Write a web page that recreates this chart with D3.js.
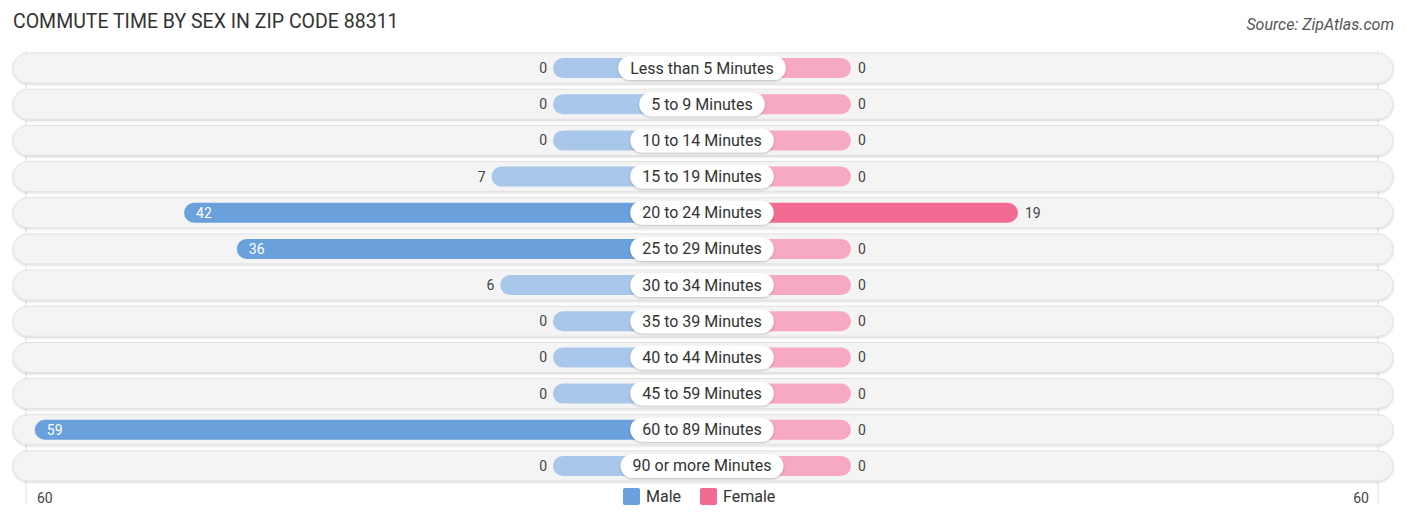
<!DOCTYPE html>
<html><head><meta charset="utf-8">
<script src="https://cdn.jsdelivr.net/npm/d3@7"></script>
<style>body{margin:0;background:#fff;font-family:Roboto,"Open Sans",sans-serif;}</style>
</head><body><svg id="c" width="1406" height="523"></svg>
<script>
const categories = ["Less than 5 Minutes","5 to 9 Minutes","10 to 14 Minutes","15 to 19 Minutes","20 to 24 Minutes","25 to 29 Minutes","30 to 34 Minutes","35 to 39 Minutes","40 to 44 Minutes","45 to 59 Minutes","60 to 89 Minutes","90 or more Minutes"];
const maleValues = [0,0,0,7,42,36,6,0,0,0,59,0];
const femaleValues = [0,0,0,0,19,0,0,0,0,0,0,0];
const axisMax = 60;
const axisTickLabels = ["60","60"];
const title = "COMMUTE TIME BY SEX IN ZIP CODE 88311";
const source = "Source: ZipAtlas.com";

const svg = d3.select("#c");
const cx = 702, zeroOff = 149;
const x = d3.scaleLinear().domain([0, axisMax]).range([0, 527]);
const y = d3.scaleBand().domain(categories).range([50, 484]).paddingInner(0);

const defs = svg.append("defs");
const f = defs.append("filter").attr("id","sh").attr("x","-10%").attr("y","-30%").attr("width","120%").attr("height","160%");
f.append("feDropShadow").attr("dx",0).attr("dy",1).attr("stdDeviation",1.2).attr("flood-color","#000").attr("flood-opacity",0.25);
const f2 = defs.append("filter").attr("id","sh2").attr("x","-5%").attr("y","-30%").attr("width","110%").attr("height","160%");
f2.append("feDropShadow").attr("dx",0).attr("dy",1).attr("stdDeviation",1).attr("flood-color","#000").attr("flood-opacity",0.18);

svg.append("text").attr("x",13).attr("y",28).text(title)
  .attr("font-size",19.5).attr("fill","#333").attr("font-family","Roboto, sans-serif");
svg.append("text").attr("x",1394).attr("y",30).attr("text-anchor","end").text(source)
  .attr("font-size",16).attr("font-style","italic").attr("fill","#555");

// gridlines
[cx - zeroOff - x(axisMax), cx + zeroOff + x(axisMax)].forEach(gx => {
  svg.append("line").attr("x1",gx).attr("x2",gx).attr("y1",50).attr("y2",505)
    .attr("stroke","#ddd").attr("stroke-width",1);
});

const rows = svg.selectAll("g.row").data(categories).join("g").attr("class","row")
  .attr("transform", d => `translate(0,${y(d) + y.bandwidth()/2})`);

rows.append("rect").attr("x",13).attr("y",-15).attr("width",1380).attr("height",30)
  .attr("rx",15).attr("fill","#f4f4f4").attr("stroke","#e2e2e2").attr("stroke-width",1).attr("filter","url(#sh2)");

const bh = 20;
rows.append("rect").attr("class","m")
  .attr("x",(d,i)=> cx - zeroOff - x(maleValues[i])).attr("y",-bh/2)
  .attr("width",(d,i)=> zeroOff + x(maleValues[i])).attr("height",bh).attr("rx",10)
  .attr("fill",(d,i)=> maleValues[i] > 20 ? "#6aa0dc" : "#a8c7ea");
rows.append("rect").attr("class","f")
  .attr("x",cx).attr("y",-bh/2)
  .attr("width",(d,i)=> zeroOff + x(femaleValues[i])).attr("height",bh).attr("rx",10)
  .attr("fill",(d,i)=> femaleValues[i] > 10 ? "#f26b93" : "#f7a8c2");

// category labels
rows.each(function(d){
  const g = d3.select(this);
  const t = g.append("text").attr("x",cx).attr("y",5.5).attr("text-anchor","middle")
    .attr("font-size",16).attr("fill","#333").text(d);
  const w = t.node().getComputedTextLength();
  g.insert("rect","text:last-of-type").attr("x",cx - w/2 - 12).attr("y",-12).attr("width",w+24).attr("height",24)
    .attr("rx",12).attr("fill","#fff").attr("filter","url(#sh)");
  t.raise();
});

// value labels
rows.append("text").attr("y",5)
  .attr("x",(d,i)=> { const v = maleValues[i]; const end = cx - zeroOff - x(v); return v > 20 ? end + 12 : end - 6; })
  .attr("text-anchor",(d,i)=> maleValues[i] > 20 ? "start" : "end")
  .attr("fill",(d,i)=> maleValues[i] > 20 ? "#fff" : "#444")
  .attr("font-size",14).text((d,i)=> maleValues[i]);
rows.append("text").attr("y",5)
  .attr("x",(d,i)=> cx + zeroOff + x(femaleValues[i]) + 7)
  .attr("fill","#444").attr("font-size",14).text((d,i)=> femaleValues[i]);

// axis labels
svg.append("text").attr("x",37).attr("y",503).attr("font-size",14).attr("fill","#444").text(axisTickLabels[0]);
svg.append("text").attr("x",1369).attr("y",503).attr("text-anchor","end").attr("font-size",14).attr("fill","#444").text(axisTickLabels[1]);

// legend
const legend = [{k:"Male",c:"#6aa0dc",x:623},{k:"Female",c:"#f26b93",x:700}];
legend.forEach(l => {
  svg.append("rect").attr("x",l.x).attr("y",488).attr("width",17).attr("height",17).attr("rx",2).attr("fill",l.c);
  svg.append("text").attr("x",l.x+23).attr("y",502).attr("font-size",16).attr("fill","#333").text(l.k);
});
</script></body></html>
